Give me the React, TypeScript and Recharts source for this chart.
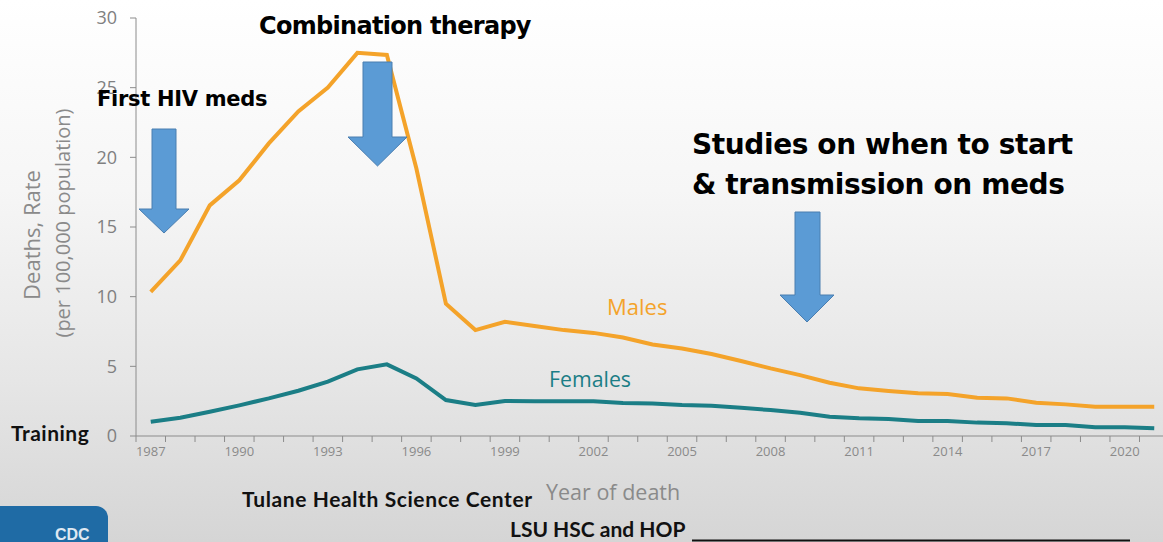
import React from 'react';
import { LineChart, Line, XAxis, YAxis } from 'recharts';

const years = [
    1987, 1988, 1989, 1990, 1991, 1992, 1993, 1994, 1995, 1996, 1997, 1998, 1999, 2000, 2001, 2002, 2003, 2004,
    2005, 2006, 2007, 2008, 2009, 2010, 2011, 2012, 2013, 2014, 2015, 2016, 2017, 2018, 2019, 2020, 2021,
];
const males = [
    10.35, 12.6, 16.55, 18.35, 21.0, 23.3, 25.0, 27.5, 27.35, 19.2, 9.5, 7.6, 8.2, 7.9, 7.6, 7.4, 7.07, 6.57,
    6.28, 5.88, 5.38, 4.85, 4.37, 3.82, 3.42, 3.23, 3.06, 3.01, 2.75, 2.7, 2.39, 2.27, 2.1, 2.1, 2.1,
];
const females = [
    1.03, 1.31, 1.74, 2.2, 2.7, 3.25, 3.9, 4.78, 5.14, 4.13, 2.58, 2.22, 2.51, 2.5, 2.5, 2.5, 2.36, 2.34,
    2.22, 2.17, 2.03, 1.86, 1.67, 1.38, 1.27, 1.22, 1.08, 1.08, 0.96, 0.91, 0.79, 0.79, 0.62, 0.62, 0.55,
];
const yTicks = [0, 5, 10, 15, 20, 25, 30];
const labelYears = [1987, 1990, 1993, 1996, 1999, 2002, 2005, 2008, 2011, 2014, 2017, 2020];

const data = years.map((year, i) => ({ year, males: males[i], females: females[i] }));
// tick marks sit on the band edges, labels sit on the band centres
const edgeTicks = [years[0] - 0.5, ...years.map((y) => y + 0.5)];

const CHART_W = 1169;
const CHART_H = 466;
const Y_AXIS_W = 136;
const BAND = (CHART_W - Y_AXIS_W) / years.length;

const ORANGE = '#F4A32A';
const TEAL = '#1B7E86';
const AXIS_GREY = '#8c8c8c';

const calibri = 'Lato, "Open Sans", sans-serif';
const segoe = '"Open Sans", "Noto Sans", sans-serif';
const heavy = '"DejaVu Sans", "Liberation Sans", sans-serif';
const helv = '"Liberation Sans", Arial, sans-serif';

const YearTick = (props: any) => {
    const { x, y, payload } = props;
    const year = payload.value + 0.5;
    if (!labelYears.includes(year)) return null;
    return (
        <text x={x + BAND / 2} y={y} dy={12} textAnchor="middle" fill="#8a8a8a" fontSize={13} fontFamily={segoe}>
            {year}
        </text>
    );
};

const Arrow = ({ sx1, sx2, top, headY, hx1, hx2, tipY }: any) => {
    const tipX = (hx1 + hx2) / 2;
    const pts = `${sx1},${top} ${sx2},${top} ${sx2},${headY} ${hx2},${headY} ${tipX},${tipY} ${hx1},${headY} ${sx1},${headY}`;
    return <polygon points={pts} fill="#5B9BD5" stroke="#4A7EB0" strokeWidth={1} />;
};

const txt = (left: number, top: number, size: number, family: string, extra: React.CSSProperties = {}) =>
    ({
        position: 'absolute',
        left,
        top,
        fontSize: size,
        fontFamily: family,
        whiteSpace: 'nowrap',
        lineHeight: 1,
        ...extra,
    }) as React.CSSProperties;

export default function App() {
    return (
        <div
            style={{
                position: 'absolute',
                left: 0,
                top: 0,
                width: 1163,
                height: 542,
                overflow: 'hidden',
                background: 'linear-gradient(to bottom, #ffffff 0%, #f6f6f6 35%, #e6e6e6 70%, #d5d5d5 100%)',
            }}
        >
            <LineChart
                width={CHART_W}
                height={CHART_H}
                data={data}
                margin={{ top: 18, right: 0, bottom: 0, left: 0 }}
                style={{ position: 'absolute', left: 0, top: 0 }}
            >
                <XAxis
                    dataKey="year"
                    type="number"
                    domain={[years[0] - 0.5, years[years.length - 1] + 0.5]}
                    ticks={edgeTicks}
                    interval={0}
                    height={30}
                    tickSize={6}
                    tickMargin={2}
                    stroke={AXIS_GREY}
                    tick={<YearTick />}
                    allowDataOverflow
                />
                <YAxis
                    domain={[0, 30]}
                    ticks={yTicks}
                    width={Y_AXIS_W}
                    tickSize={6}
                    tickMargin={13}
                    stroke={AXIS_GREY}
                    tick={{ fill: '#808080', fontSize: 18, fontFamily: segoe }}
                />
                <Line
                    dataKey="males"
                    stroke={ORANGE}
                    strokeWidth={4}
                    dot={false}
                    type="linear"
                    isAnimationActive={false}
                />
                <Line
                    dataKey="females"
                    stroke={TEAL}
                    strokeWidth={4}
                    dot={false}
                    type="linear"
                    isAnimationActive={false}
                />
            </LineChart>

            <svg width={1163} height={542} style={{ position: 'absolute', left: 0, top: 0 }}>
                <Arrow sx1={152} sx2={176} top={129} headY={209} hx1={139} hx2={189} tipY={233} />
                <Arrow sx1={363} sx2={392} top={62} headY={137} hx1={348} hx2={407} tipY={166} />
                <Arrow sx1={795} sx2={820} top={212} headY={295} hx1={780} hx2={834} tipY={322} />
                <rect x={-20} y={506} width={128} height={60} rx={12} fill="#1F6BA5" />
                <text x={55} y={540} fill="#dfe8f2" fontSize={16} fontWeight={700} fontFamily={helv}>
                    CDC
                </text>
                <line x1={692} y1={540.5} x2={1130} y2={540.5} stroke="#111" strokeWidth={2} />
            </svg>

            <div style={txt(259, 14, 24, heavy, { fontWeight: 700, letterSpacing: -0.7 })}>Combination therapy</div>
            <div style={txt(97, 89, 21, heavy, { fontWeight: 700, letterSpacing: -0.3 })}>First HIV meds</div>
            <div style={txt(692, 125, 28, heavy, { fontWeight: 700, letterSpacing: -0.4, lineHeight: '40px' })}>
                Studies on when to start
                <br />&amp; transmission on meds
            </div>

            <div style={txt(607, 295, 22, segoe, { color: ORANGE })}>Males</div>
            <div style={txt(549, 368, 21.3, segoe, { color: TEAL })}>Females</div>

            <div style={txt(11, 422, 21, calibri, { fontWeight: 700, color: '#111', letterSpacing: 0.5 })}>
                Training
            </div>
            <div style={txt(242, 488, 21, calibri, { fontWeight: 700, color: '#111', letterSpacing: 0.6 })}>
                Tulane Health Science Center
            </div>
            <div style={txt(546, 481, 21.5, segoe, { color: '#8a8a8a' })}>Year of death</div>
            <div style={txt(510, 518, 21, calibri, { fontWeight: 700, color: '#111' })}>LSU HSC and HOP</div>

            <div
                style={txt(31, 235, 22, segoe, {
                    color: '#8a8a8a',
                    transform: 'translate(-50%, -50%) rotate(-90deg)',
                })}
            >
                Deaths, Rate
            </div>
            <div
                style={txt(63, 223, 20, segoe, {
                    color: '#8a8a8a',
                    transform: 'translate(-50%, -50%) rotate(-90deg)',
                })}
            >
                (per 100,000 population)
            </div>
        </div>
    );
}
